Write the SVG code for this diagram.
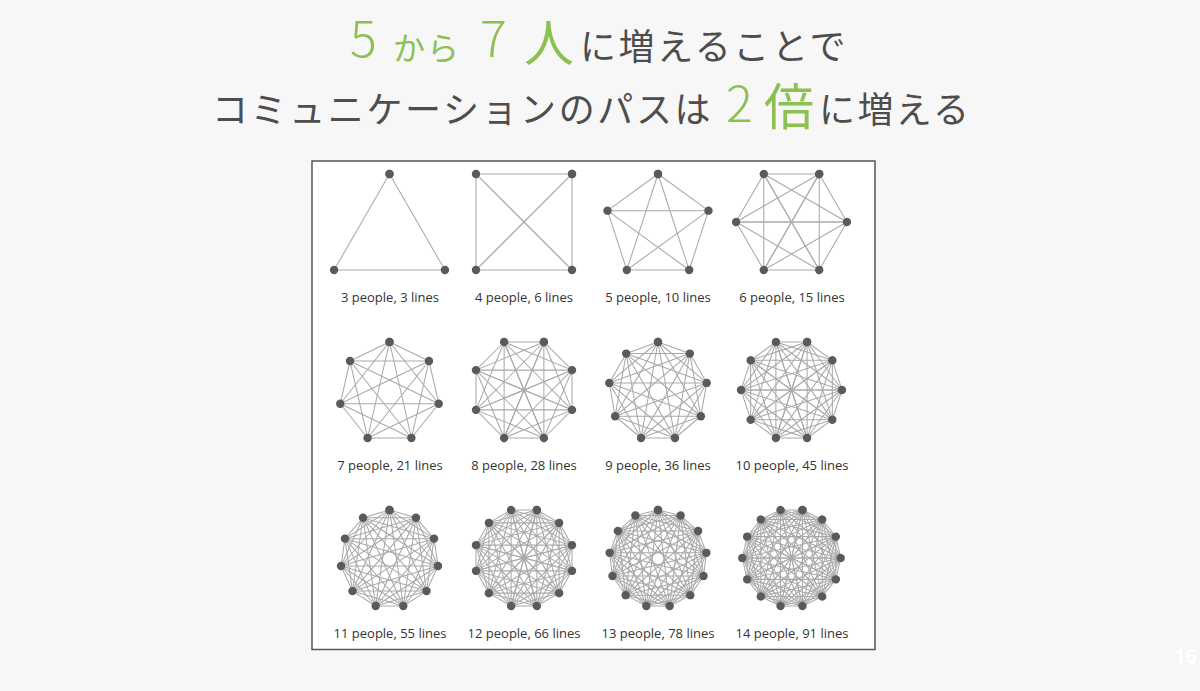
<svg xmlns="http://www.w3.org/2000/svg" width="1200" height="691" viewBox="0 0 1200 691">
<defs>
<style>
.bg{fill:#f7f7f7}
.panel{fill:#ffffff;stroke:#555555;stroke-width:1.5}
.edge{fill:none;stroke:#a9a9a9;stroke-width:1.05}
.dots{fill:none;stroke:none;marker-start:url(#dot);marker-mid:url(#dot);marker-end:url(#dot)}
.lbl{font-family:"Open Sans","Noto Sans",sans-serif;font-size:13px;fill:#333333;text-anchor:middle}
.ttl{font-family:"Noto Sans CJK JP","Noto Sans",sans-serif;font-weight:400}
.g{fill:#8cc152}
.k{fill:#4d4d4d}
.num{font-weight:300}
</style>
<marker id="dot" viewBox="0 0 10 10" refX="5" refY="5" markerWidth="10" markerHeight="10" markerUnits="userSpaceOnUse" overflow="visible">
<circle cx="5" cy="5" r="4.2" fill="#5a5a5a"/>
</marker>
</defs>
<rect class="bg" x="0" y="0" width="1200" height="691"/>

<g id="title">
<text class="ttl" y="60">
<tspan class="g num" x="350" y="57" font-size="50">5</tspan><tspan class="g" x="393" y="60" font-size="32" letter-spacing="2">から</tspan><tspan class="g num" x="480" y="57" font-size="50">7</tspan><tspan class="g" x="524" y="61" font-size="50">人</tspan><tspan class="k" x="580" y="60" font-size="36" letter-spacing="2.6">に増えることで</tspan>
</text>
<text class="ttl" y="123">
<tspan class="k" x="212" y="123" font-size="36" letter-spacing="2.6">コミュニケーションのパスは</tspan><tspan class="g num" x="726" y="122" font-size="50">2</tspan><tspan class="g" x="764" y="125" font-size="50">倍</tspan><tspan class="k" x="819" y="123" font-size="36" letter-spacing="2.4">に増える</tspan>
</text>
</g>

<rect id="panel" class="panel" x="312" y="161" width="563" height="488.5"/>

<g id="connectors">
<g id="k3" transform="translate(389.5,238)">
<path id="e3" class="edge" d="M0,-64L55.43,32"/>
<use href="#e3" transform="rotate(120)"/><use href="#e3" transform="rotate(240)"/>
<polygon class="dots" points="0,-64 55.43,32 -55.43,32"/>
</g>
<g id="k4" transform="translate(524,222) rotate(45)">
<path id="e4" class="edge" d="M0,-67.88L67.88,0M0,-67.88L0,67.88"/>
<use href="#e4" transform="rotate(90)"/><use href="#e4" transform="rotate(180)"/><use href="#e4" transform="rotate(270)"/>
<polygon class="dots" points="0,-67.88 67.88,0 0,67.88 -67.88,0"/>
</g>
<g id="k5" transform="translate(658,227.07)">
<path id="e5" class="edge" d="M0,-53.07L50.47,-16.4M0,-53.07L31.19,42.93"/>
<use href="#e5" transform="rotate(72)"/><use href="#e5" transform="rotate(144)"/><use href="#e5" transform="rotate(216)"/><use href="#e5" transform="rotate(288)"/>
<polygon class="dots" points="0,-53.07 50.47,-16.4 31.19,42.93 -31.19,42.93 -50.47,-16.4"/>
</g>
<g id="k6" transform="translate(791.5,222) rotate(30)">
<path id="e6" class="edge" d="M0,-55.43L48,-27.71M0,-55.43L48,27.71M0,-55.43L0,55.43"/>
<use href="#e6" transform="rotate(60)"/><use href="#e6" transform="rotate(120)"/><use href="#e6" transform="rotate(180)"/><use href="#e6" transform="rotate(240)"/><use href="#e6" transform="rotate(300)"/>
<polygon class="dots" points="0,-55.43 48,-27.71 48,27.71 0,55.43 -48,27.71 -48,-27.71"/>
</g>
<g id="k7" transform="translate(389.5,392.5)">
<path id="e7" class="edge" d="M0,-50.5L39.48,-31.49M0,-50.5L49.23,11.24M0,-50.5L21.91,45.5"/>
<use href="#e7" transform="rotate(51.4286)"/><use href="#e7" transform="rotate(102.857)"/><use href="#e7" transform="rotate(154.286)"/><use href="#e7" transform="rotate(205.714)"/><use href="#e7" transform="rotate(257.143)"/><use href="#e7" transform="rotate(308.571)"/>
<polygon class="dots" points="0,-50.5 39.48,-31.49 49.23,11.24 21.91,45.5 -21.91,45.5 -49.23,11.24 -39.48,-31.49"/>
</g>
<g id="k8" transform="translate(524,390) rotate(22.5)">
<path id="e8" class="edge" d="M0,-51.96L36.74,-36.74M0,-51.96L51.96,0M0,-51.96L36.74,36.74M0,-51.96L0,51.96"/>
<use href="#e8" transform="rotate(45)"/><use href="#e8" transform="rotate(90)"/><use href="#e8" transform="rotate(135)"/><use href="#e8" transform="rotate(180)"/><use href="#e8" transform="rotate(225)"/><use href="#e8" transform="rotate(270)"/><use href="#e8" transform="rotate(315)"/>
<polygon class="dots" points="0,-51.96 36.74,-36.74 51.96,0 36.74,36.74 0,51.96 -36.74,36.74 -51.96,0 -36.74,-36.74"/>
</g>
<g id="k9" transform="translate(658,391.5)">
<path id="e9" class="edge" d="M0,-49.49L31.81,-37.91M0,-49.49L48.74,-8.59M0,-49.49L42.86,24.75M0,-49.49L16.93,46.51"/>
<use href="#e9" transform="rotate(40)"/><use href="#e9" transform="rotate(80)"/><use href="#e9" transform="rotate(120)"/><use href="#e9" transform="rotate(160)"/><use href="#e9" transform="rotate(200)"/><use href="#e9" transform="rotate(240)"/><use href="#e9" transform="rotate(280)"/><use href="#e9" transform="rotate(320)"/>
<polygon class="dots" points="0,-49.49 31.81,-37.91 48.74,-8.59 42.86,24.75 16.93,46.51 -16.93,46.51 -42.86,24.75 -48.74,-8.59 -31.81,-37.91"/>
</g>
<g id="k10" transform="translate(791.5,390) rotate(18)">
<path id="e10" class="edge" d="M0,-50.47L29.67,-40.83M0,-50.47L48,-15.6M0,-50.47L48,15.6M0,-50.47L29.67,40.83M0,-50.47L0,50.47"/>
<use href="#e10" transform="rotate(36)"/><use href="#e10" transform="rotate(72)"/><use href="#e10" transform="rotate(108)"/><use href="#e10" transform="rotate(144)"/><use href="#e10" transform="rotate(180)"/><use href="#e10" transform="rotate(216)"/><use href="#e10" transform="rotate(252)"/><use href="#e10" transform="rotate(288)"/><use href="#e10" transform="rotate(324)"/>
<polygon class="dots" points="0,-50.47 29.67,-40.83 48,-15.6 48,15.6 29.67,40.83 0,50.47 -29.67,40.83 -48,15.6 -48,-15.6 -29.67,-40.83"/>
</g>
<g id="k11" transform="translate(389.5,559)">
<path id="e11" class="edge" d="M0,-48.99L26.49,-41.21M0,-48.99L44.56,-20.35M0,-48.99L48.49,6.97M0,-48.99L37.02,32.08M0,-48.99L13.8,47.01"/>
<use href="#e11" transform="rotate(32.7273)"/><use href="#e11" transform="rotate(65.4545)"/><use href="#e11" transform="rotate(98.1818)"/><use href="#e11" transform="rotate(130.909)"/><use href="#e11" transform="rotate(163.636)"/><use href="#e11" transform="rotate(196.364)"/><use href="#e11" transform="rotate(229.091)"/><use href="#e11" transform="rotate(261.818)"/><use href="#e11" transform="rotate(294.545)"/><use href="#e11" transform="rotate(327.273)"/>
<polygon class="dots" points="0,-48.99 26.49,-41.21 44.56,-20.35 48.49,6.97 37.02,32.08 13.8,47.01 -13.8,47.01 -37.02,32.08 -48.49,6.97 -44.56,-20.35 -26.49,-41.21"/>
</g>
<g id="k12" transform="translate(524,558) rotate(15)">
<path id="e12" class="edge" d="M0,-49.69L24.85,-43.03M0,-49.69L43.03,-24.85M0,-49.69L49.69,0M0,-49.69L43.03,24.85M0,-49.69L24.85,43.03M0,-49.69L0,49.69"/>
<use href="#e12" transform="rotate(30)"/><use href="#e12" transform="rotate(60)"/><use href="#e12" transform="rotate(90)"/><use href="#e12" transform="rotate(120)"/><use href="#e12" transform="rotate(150)"/><use href="#e12" transform="rotate(180)"/><use href="#e12" transform="rotate(210)"/><use href="#e12" transform="rotate(240)"/><use href="#e12" transform="rotate(270)"/><use href="#e12" transform="rotate(300)"/><use href="#e12" transform="rotate(330)"/>
<polygon class="dots" points="0,-49.69 24.85,-43.03 43.03,-24.85 49.69,0 43.03,24.85 24.85,43.03 0,49.69 -24.85,43.03 -43.03,24.85 -49.69,0 -43.03,-24.85 -24.85,-43.03"/>
</g>
<g id="k13" transform="translate(658,558.7)">
<path id="e13" class="edge" d="M0,-48.71L22.64,-43.13M0,-48.71L40.09,-27.67M0,-48.71L48.36,-5.87M0,-48.71L45.54,17.27M0,-48.71L32.3,36.46M0,-48.71L11.66,47.29"/>
<use href="#e13" transform="rotate(27.6923)"/><use href="#e13" transform="rotate(55.3846)"/><use href="#e13" transform="rotate(83.0769)"/><use href="#e13" transform="rotate(110.769)"/><use href="#e13" transform="rotate(138.462)"/><use href="#e13" transform="rotate(166.154)"/><use href="#e13" transform="rotate(193.846)"/><use href="#e13" transform="rotate(221.538)"/><use href="#e13" transform="rotate(249.231)"/><use href="#e13" transform="rotate(276.923)"/><use href="#e13" transform="rotate(304.615)"/><use href="#e13" transform="rotate(332.308)"/>
<polygon class="dots" points="0,-48.71 22.64,-43.13 40.09,-27.67 48.36,-5.87 45.54,17.27 32.3,36.46 11.66,47.29 -11.66,47.29 -32.3,36.46 -45.54,17.27 -48.36,-5.87 -40.09,-27.67 -22.64,-43.13"/>
</g>
<g id="k14" transform="translate(791.5,558) rotate(12.857)">
<path id="e14" class="edge" d="M0,-49.23L21.36,-44.35M0,-49.23L38.49,-30.69M0,-49.23L48,-10.95M0,-49.23L48,10.95M0,-49.23L38.49,30.69M0,-49.23L21.36,44.35M0,-49.23L0,49.23"/>
<use href="#e14" transform="rotate(25.7143)"/><use href="#e14" transform="rotate(51.4286)"/><use href="#e14" transform="rotate(77.1429)"/><use href="#e14" transform="rotate(102.857)"/><use href="#e14" transform="rotate(128.571)"/><use href="#e14" transform="rotate(154.286)"/><use href="#e14" transform="rotate(180)"/><use href="#e14" transform="rotate(205.714)"/><use href="#e14" transform="rotate(231.429)"/><use href="#e14" transform="rotate(257.143)"/><use href="#e14" transform="rotate(282.857)"/><use href="#e14" transform="rotate(308.571)"/><use href="#e14" transform="rotate(334.286)"/>
<polygon class="dots" points="0,-49.23 21.36,-44.35 38.49,-30.69 48,-10.95 48,10.95 38.49,30.69 21.36,44.35 0,49.23 -21.36,44.35 -38.49,30.69 -48,10.95 -48,-10.95 -38.49,-30.69 -21.36,-44.35"/>
</g>
</g>

<g id="labels">
<text class="lbl" x="390" y="301.5">3 people, 3 lines</text>
<text class="lbl" x="524" y="301.5">4 people, 6 lines</text>
<text class="lbl" x="658" y="301.5">5 people, 10 lines</text>
<text class="lbl" x="792" y="301.5">6 people, 15 lines</text>
<text class="lbl" x="390" y="469.5">7 people, 21 lines</text>
<text class="lbl" x="524" y="469.5">8 people, 28 lines</text>
<text class="lbl" x="658" y="469.5">9 people, 36 lines</text>
<text class="lbl" x="792" y="469.5">10 people, 45 lines</text>
<text class="lbl" x="390" y="637.5">11 people, 55 lines</text>
<text class="lbl" x="524" y="637.5">12 people, 66 lines</text>
<text class="lbl" x="658" y="637.5">13 people, 78 lines</text>
<text class="lbl" x="792" y="637.5">14 people, 91 lines</text>
</g>

<text id="page" x="1174" y="663" font-family="'Open Sans','Noto Sans',sans-serif" font-size="20" font-weight="bold" fill="#ffffff">16</text>
</svg>
